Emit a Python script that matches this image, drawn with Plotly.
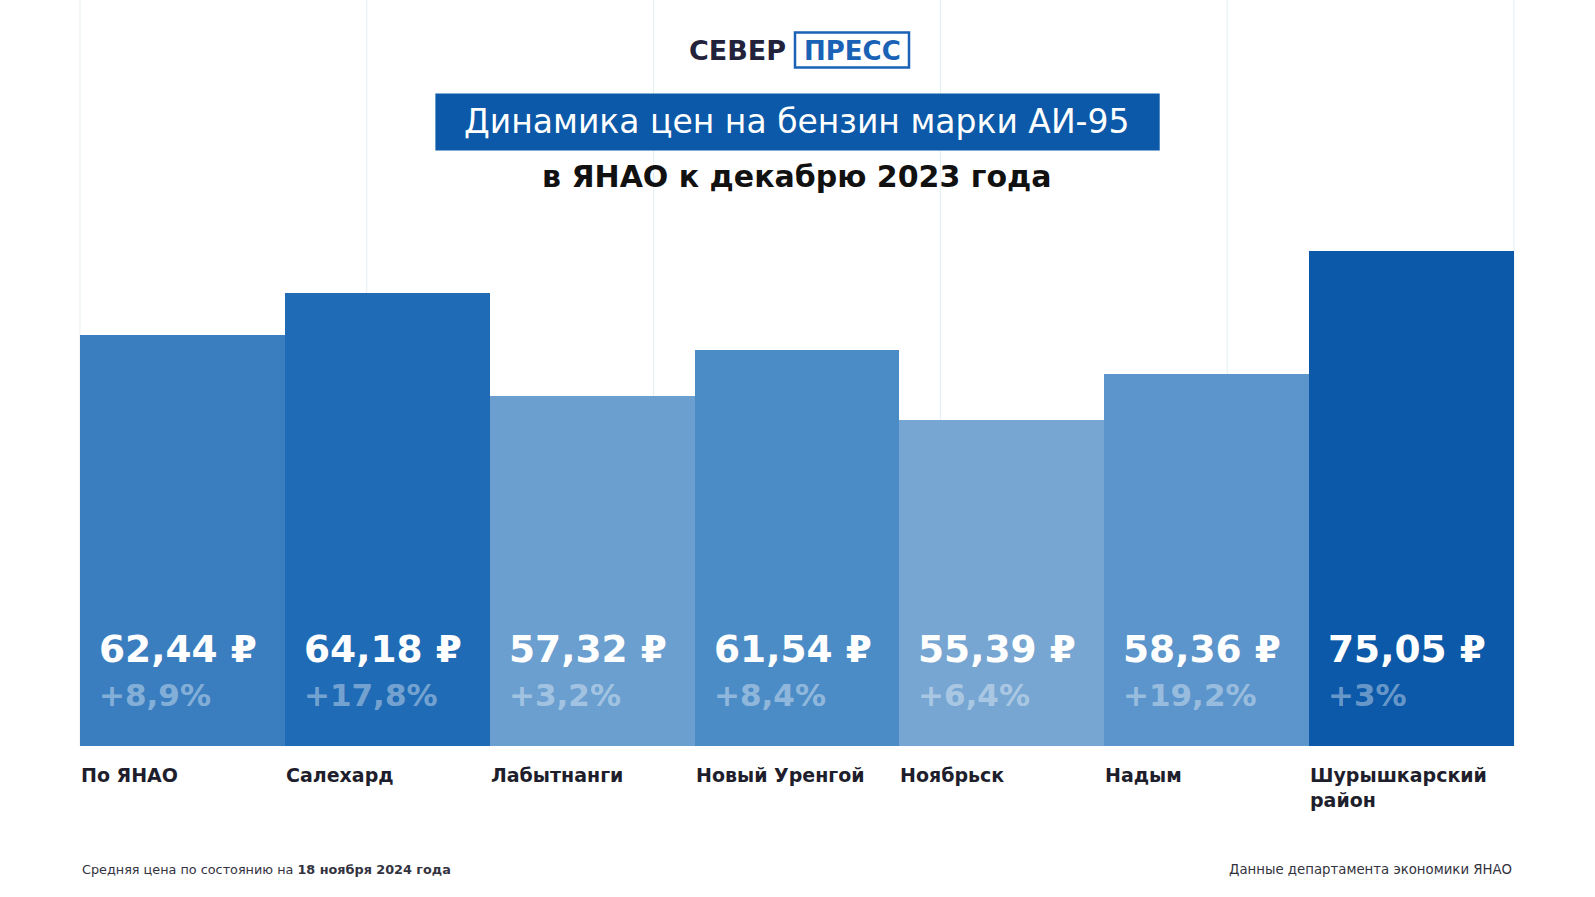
import plotly.graph_objects as go

# ---------------- data ----------------
categories = ["По ЯНАО", "Салехард", "Лабытнанги", "Новый Уренгой", "Ноябрьск", "Надым", "Шурышкарский район"]
category_labels = ["По ЯНАО", "Салехард", "Лабытнанги", "Новый Уренгой", "Ноябрьск", "Надым", "Шурышкарский<br>район"]
prices = [62.44, 64.18, 57.32, 61.54, 55.39, 58.36, 75.05]
changes = [8.9, 17.8, 3.2, 8.4, 6.4, 19.2, 3.0]
# bar heights as drawn in the picture (same ruble units)
bar_heights = [62.31, 68.61, 52.99, 59.93, 49.33, 56.30, 75.05]
bar_colors = ["#3a7ec0", "#1f6bb5", "#6a9fcf", "#4c8cc6", "#76a6d1", "#5b95cb", "#0b59a8"]

title_text = "Динамика цен на бензин марки АИ-95"
subtitle_text = "в ЯНАО к декабрю 2023 года"
footer_left = "Средняя цена по состоянию на <b>18 ноября 2024 года</b>"
footer_right = "Данные департамента экономики ЯНАО"

price_labels = [f"{p:.2f}".replace(".", ",") + " ₽" for p in prices]
change_labels = ["+" + f"{c:g}".replace(".", ",") + "%" for c in changes]

# ---------------- layout geometry ----------------
W, H = 1595, 897
ML, MR, MT, MB = 80, 81, 150, 151
PW, PH = W - ML - MR, H - MT - MB
BASE = H - MB
unit_px = 495.4 / 75.05
ymax = PH / unit_px
bar_w_px = PW / len(categories)


def px(x):
    return (x - ML) / PW


def py(y):
    return (BASE - y) / PH


FONT = "DejaVu Sans"

fig = go.Figure()
fig.add_trace(go.Bar(
    x=categories, y=bar_heights, marker=dict(color=bar_colors, line=dict(width=0)),
    width=1.0, hoverinfo="skip",
))

annotations = []
shapes = []

# faint vertical grid lines
for i in range(6):
    shapes.append(dict(type="line", xref="paper", yref="paper", x0=i / 5, x1=i / 5,
                       y0=0, y1=py(0), line=dict(color="#e4edf2", width=1), layer="below"))

for i, cat in enumerate(categories):
    annotations.append(dict(x=cat, xref="x", y=py(649), yref="paper", text=price_labels[i],
                            xanchor="left", yanchor="middle", xshift=-bar_w_px / 2 + 17,
                            showarrow=False,
                            font=dict(family=FONT, size=37.5, color="white", weight=700)))
    annotations.append(dict(x=cat, xref="x", y=py(695), yref="paper", text=change_labels[i],
                            xanchor="left", yanchor="middle", xshift=-bar_w_px / 2 + 17,
                            showarrow=False,
                            font=dict(family=FONT, size=31, color="rgba(255,255,255,0.4)", weight=700)))
    annotations.append(dict(x=cat, xref="x", y=py(762), yref="paper", text=category_labels[i],
                            xanchor="left", yanchor="top", xshift=-bar_w_px / 2 - 1, align="left",
                            showarrow=False,
                            font=dict(family=FONT, size=19, color="#1e1e2c", weight=700)))

# title box
shapes.append(dict(type="rect", xref="paper", yref="paper", x0=px(435.4), x1=px(1159.7),
                   y0=py(150.5), y1=py(93.6), fillcolor="#0b59a8", line=dict(width=0)))
annotations.append(dict(x=px(797.5), y=py(122), xref="paper", yref="paper", text=title_text,
                        showarrow=False, xanchor="center", yanchor="middle",
                        font=dict(family=FONT, size=33, color="white", weight=400)))
annotations.append(dict(x=px(797.5), y=py(176), xref="paper", yref="paper", text=subtitle_text,
                        showarrow=False, xanchor="center", yanchor="middle",
                        font=dict(family=FONT, size=30, color="#111111", weight=700)))

# logo
annotations.append(dict(x=px(737), y=py(51), xref="paper", yref="paper", text="СЕВЕР",
                        showarrow=False, xanchor="center", yanchor="middle",
                        font=dict(family=FONT, size=27, color="#22223a", weight=800)))
shapes.append(dict(type="rect", xref="paper", yref="paper", x0=px(795), x1=px(909),
                   y0=py(67.5), y1=py(32.5), fillcolor="white",
                   line=dict(color="#1a62b5", width=2.5)))
annotations.append(dict(x=px(852), y=py(51), xref="paper", yref="paper", text="ПРЕСС",
                        showarrow=False, xanchor="center", yanchor="middle",
                        font=dict(family=FONT, size=26, color="#1a62b5", weight=800)))

# footer
annotations.append(dict(x=px(80), y=py(869), xref="paper", yref="paper", text=footer_left,
                        showarrow=False, xanchor="left", yanchor="middle",
                        font=dict(family=FONT, size=12.8, color="#333340")))
annotations.append(dict(x=px(1514), y=py(869), xref="paper", yref="paper", text=footer_right,
                        showarrow=False, xanchor="right", yanchor="middle",
                        font=dict(family=FONT, size=13.3, color="#333340")))

fig.update_layout(
    width=W, height=H,
    margin=dict(l=ML, r=MR, t=MT, b=MB),
    paper_bgcolor="white", plot_bgcolor="rgba(0,0,0,0)",
    showlegend=False, bargap=0,
    xaxis=dict(visible=False, range=[-0.5, len(categories) - 0.5]),
    yaxis=dict(visible=False, range=[0, ymax]),
    annotations=annotations, shapes=shapes,
)

fig.write_html("out.html")
